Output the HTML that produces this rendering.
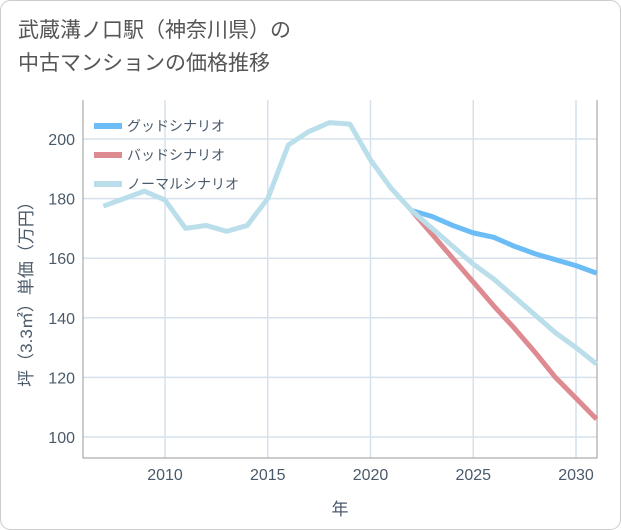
<!DOCTYPE html>
<html><head><meta charset="utf-8"><style>
body{margin:0;background:#fff;}
#wrap{position:relative;width:621px;height:530px;background:#fff;font-family:"Liberation Sans","Noto Sans CJK JP",sans-serif;}
#title{position:absolute;left:18px;top:14px;font-size:21px;line-height:33px;color:#555;z-index:2;}
</style></head><body>
<div id="wrap">
<svg id="chart" width="621" height="530" style="position:absolute;left:0;top:0;z-index:1"></svg>
<div id="title">武蔵溝ノ口駅（神奈川県）の<br>中古マンションの価格推移</div>
</div>
<script>
const years=[2007,2008,2009,2010,2011,2012,2013,2014,2015,2016,2017,2018,2019,2020,2021,2022,2023,2024,2025,2026,2027,2028,2029,2030,2031];
const normalVals=[177.5,180,182.5,179.5,170,171,169,171,180,198,202.5,205.5,205,193,183.5,176,170,164,158,153,147,141,135,130,124.5];
const goodYears=[2022,2023,2024,2025,2026,2027,2028,2029,2030,2031];
const goodVals=[176,174,171,168.5,167,164,161.5,159.5,157.5,155];
const badVals=[176,168,160,152,144,136.5,128.5,120,113,106];
const xTicks=[2010,2015,2020,2025,2030];
const yTicks=[100,120,140,160,180,200];
const NS="http://www.w3.org/2000/svg";
const svg=document.getElementById('chart');
const L=83,R=597,T=100,B=458;
function x(v){return 165+(v-2010)*20.55;}
function y(v){return 139+(200-v)*2.98;}
function mk(t,a){const e=document.createElementNS(NS,t);for(const k in a)e.setAttribute(k,a[k]);svg.appendChild(e);return e;}
const bg=mk('rect',{x:0.5,y:0.5,width:620,height:529,rx:10,fill:'#fff',stroke:'#ccc'});


for(const t of yTicks){
 const g=mk('line',{x1:L,x2:R,y1:y(t),y2:y(t),stroke:'#d5e1ec','stroke-width':1.5});
 
 
 const tx=mk('text',{x:L-8,y:y(t)+6,'text-anchor':'end','font-size':16,fill:'#4a5a6a'});
 tx.textContent=t;
 
 
}
for(const t of xTicks){
 const g=mk('line',{x1:x(t),x2:x(t),y1:T,y2:B,stroke:'#d5e1ec','stroke-width':1.5});
 
 
 const tx=mk('text',{x:x(t),y:B+22,'text-anchor':'middle','font-size':16,fill:'#4a5a6a'});
 tx.textContent=t;
 
 
}
const ax=mk('path',{d:`M${L},${T}V${B}H${R}V${T}`,fill:'none',stroke:'#999','stroke-width':1});


function line(xs,vs,c,name){
 const p=mk('polyline',{points:xs.map((t,i)=>x(t)+','+y(vs[i])).join(' '),fill:'none',stroke:c,'stroke-width':5,'stroke-linejoin':'round'});
 
 
}
line(goodYears,goodVals,'#6cbcf5','good-scenario-line');
line(goodYears,badVals,'#de8a91','bad-scenario-line');
line(years,normalVals,'#badfeb','normal-scenario-line');
const leg=[['グッドシナリオ','#6cbcf5'],['バッドシナリオ','#de8a91'],['ノーマルシナリオ','#badfeb']];
leg.forEach((l,i)=>{
 const yy=126+i*29;
 const s=mk('line',{x1:94,x2:122,y1:yy,y2:yy,stroke:l[1],'stroke-width':6});
 
 
 const t=mk('text',{x:127,y:yy+5,'font-size':14,fill:'#4a5a6a'});
 t.textContent=l[0];
 
 
});
const xt=mk('text',{x:340,y:515,'text-anchor':'middle','font-size':17,fill:'#4a5a6a'});
xt.textContent='年';


const yt=mk('text',{x:0,y:0,'text-anchor':'middle','font-size':17,fill:'#4a5a6a',transform:'translate(32,290) rotate(-90)'});
yt.textContent='坪（3.3㎡）単価（万円）';


</script>
</body></html>
